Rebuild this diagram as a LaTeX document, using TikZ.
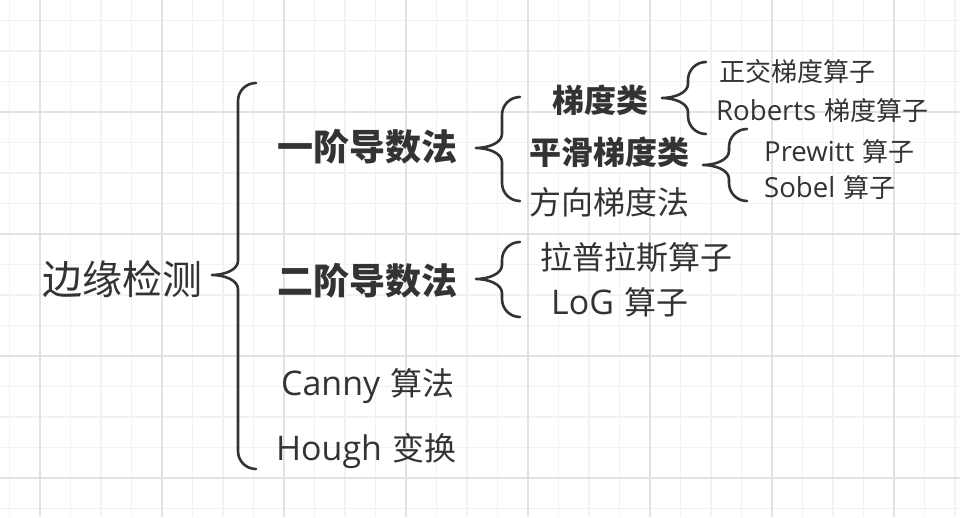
\documentclass[tikz,border=0pt]{standalone}
\usepackage{fontspec}
\setmainfont{Noto Sans CJK SC}
\newfontfamily\latinfont[Scale=1.06]{Open Sans}
\usepackage{tikz}
\definecolor{ink}{RGB}{51,51,51}
\definecolor{minorgrid}{RGB}{242,242,242}
\definecolor{majorgrid}{RGB}{226,226,226}
\tikzset{
    lbl/.style = {anchor=base west, inner sep=0pt, text=ink},
    brace/.style = {draw=ink, line width=2.6pt, line cap=round, line join=round}
}
% #1 = x of the bar, #2 top y, #3 tip y, #4 bottom y
\newcommand{\curly}[4]{%
    \draw[brace] ({#1+18},#2) .. controls ({#1+8},#2) and (#1,{#2+8}) .. (#1,{#2+18})
        -- (#1,{#3-14}) .. controls (#1,{#3-5}) and ({#1-14},#3) .. ({#1-26},#3)
        .. controls ({#1-14},#3) and (#1,{#3+5}) .. (#1,{#3+14})
        -- (#1,{#4-18}) .. controls (#1,{#4-8}) and ({#1+8},#4) .. ({#1+18},#4);
}

\begin{document}
\begin{tikzpicture}[x=1pt, y=-1pt]
    \useasboundingbox[fill=white] (0,0) rectangle (960,517);
    % grid
    \foreach \k in {-1,...,30}
        \draw[minorgrid, line width=1.4pt] ({40+30.5*\k},0) -- ({40+30.5*\k},517);
    \foreach \k in {-3,...,13}
        \draw[minorgrid, line width=1.4pt] (0,{112+30.5*\k}) -- (960,{112+30.5*\k});
    \foreach \k in {0,...,7}
        \draw[majorgrid, line width=1.8pt] ({40+122*\k},0) -- ({40+122*\k},517);
    \foreach \k in {0,...,3}
        \draw[majorgrid, line width=1.8pt] (0,{112+122*\k}) -- (960,{112+122*\k});

    % nodes
    \node[lbl, font=\fontsize{40}{40}\selectfont] (root) at (42,294) {边缘检测};
    \node[lbl, font=\fontsize{36}{36}\selectfont\bfseries] (first) at (277,160) {一阶导数法};
    \node[lbl, font=\fontsize{36}{36}\selectfont\bfseries] (second) at (277,294) {二阶导数法};
    \node[lbl, font=\fontsize{32}{32}\selectfont] (canny) at (281,395) {{\latinfont Canny\hspace{0.3em}}算法};
    \node[lbl, font=\fontsize{32}{32}\selectfont] (hough) at (276,460) {{\latinfont Hough\hspace{0.3em}}变换};
    \node[lbl, font=\fontsize{32}{32}\selectfont\bfseries] (grad) at (552,112) {梯度类};
    \node[lbl, font=\fontsize{32}{32}\selectfont\bfseries] (smooth) at (529,164) {平滑梯度类};
    \node[lbl, font=\fontsize{32}{32}\selectfont] (dirgrad) at (529,214) {方向梯度法};
    \node[lbl, font=\fontsize{26}{26}\selectfont] (ortho) at (719,81) {正交梯度算子};
    \node[lbl, font=\fontsize{26}{26}\selectfont] (roberts) at (716,120) {{\latinfont Roberts\hspace{0.3em}}梯度算子};
    \node[lbl, font=\fontsize{26}{26}\selectfont] (prewitt) at (764,161) {{\latinfont Prewitt\hspace{0.3em}}算子};
    \node[lbl, font=\fontsize{26}{26}\selectfont] (sobel) at (764,197) {{\latinfont Sobel\hspace{0.3em}}算子};
    \node[lbl, font=\fontsize{32}{32}\selectfont] (lap) at (540,269) {拉普拉斯算子};
    \node[lbl, font=\fontsize{32}{32}\selectfont] (log) at (551,314) {{\latinfont LoG\hspace{0.3em}}算子};

    % braces
    \curly{238}{83}{275}{469}
    \curly{502}{97}{148}{201}
    \curly{688}{62}{98}{134}
    \curly{729}{129}{165}{201}
    \curly{502}{242}{279}{317}
\end{tikzpicture}
\end{document}
